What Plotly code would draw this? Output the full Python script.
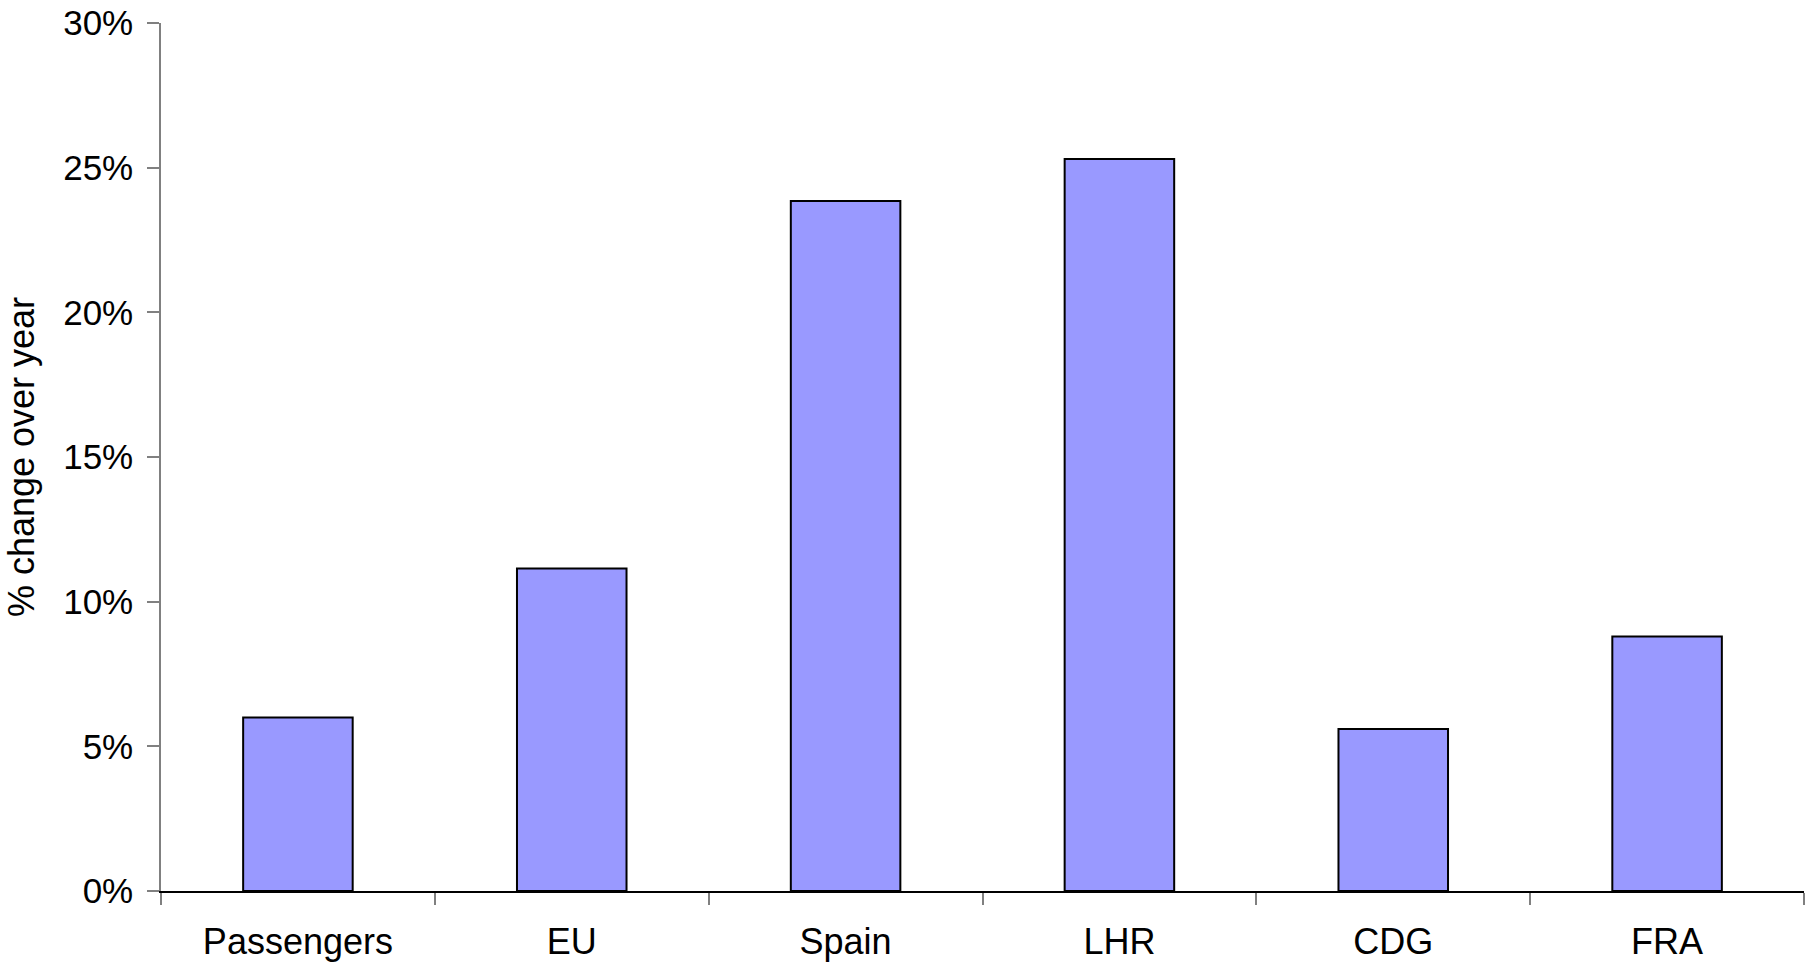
import plotly.graph_objects as go

categories = ["Passengers", "EU", "Spain", "LHR", "CDG", "FRA"]
values = [6.0, 11.15, 23.85, 25.3, 5.6, 8.8]
y_ticks = [0, 5, 10, 15, 20, 25, 30]
y_title = "% change over year"

FONT = "Liberation Sans, Arial, sans-serif"

fig = go.Figure()
fig.add_trace(go.Bar(
    x=categories, y=values, width=0.4,
    marker=dict(color="#9999FF", line=dict(color="#000000", width=2)),
    showlegend=False,
))

fig.update_layout(
    width=1812, height=962,
    margin=dict(l=161, r=8, t=23, b=71, autoexpand=False),
    paper_bgcolor="white", plot_bgcolor="white",
    font=dict(family=FONT, size=35, color="#000000"),
    bargap=0.6,
)
fig.update_xaxes(
    type="category", range=[-0.5, 5.5],
    showline=True, linecolor="#000000", linewidth=1.5,
    ticks="outside", tickson="boundaries", ticklen=12, tickcolor="#808080", tickwidth=1.5,
    showgrid=False, zeroline=False, ticklabelstandoff=18,
    ticklabeloverflow="allow",
    tickfont=dict(size=36),
    automargin=False,
)
fig.update_yaxes(
    range=[0, 30], tickvals=y_ticks, ticktext=[f"{v}%" for v in y_ticks],
    showline=True, linecolor="#808080", linewidth=1.5,
    ticks="outside", ticklen=12, tickcolor="#808080", tickwidth=1.5,
    showgrid=False, zeroline=False, ticklabelstandoff=7,
    ticklabeloverflow="allow",
    title=dict(text=y_title, standoff=18, font=dict(size=36)),
    automargin=False,
)

fig.write_html(
    "out.html",
    config={"displayModeBar": False},
    post_script="document.body.style.margin='0';document.body.style.overflow='hidden';",
)
